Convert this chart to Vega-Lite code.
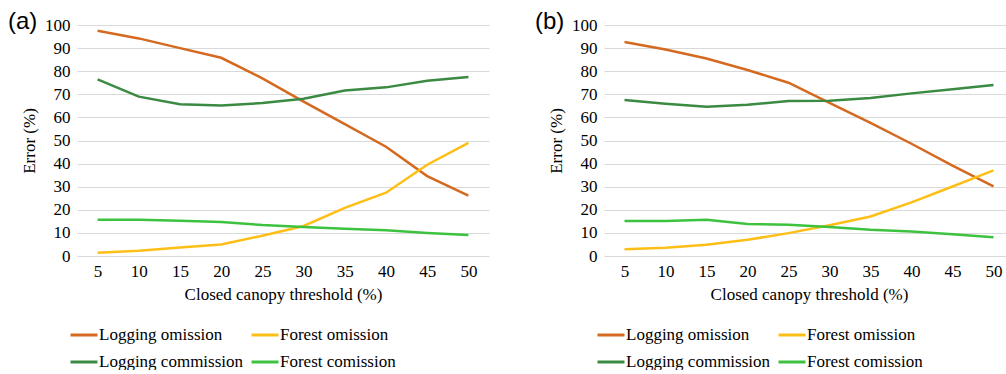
{
  "$schema": "https://vega.github.io/schema/vega-lite/v6.json",
  "background": "white",
  "padding": {"left": 8, "top": 10, "right": 0, "bottom": 0},
  "spacing": 46,
  "datasets": {
    "errors": [
      {"panel": "a", "threshold": 5, "series": "Logging omission", "error": 97.5},
      {"panel": "a", "threshold": 10, "series": "Logging omission", "error": 94.2},
      {"panel": "a", "threshold": 15, "series": "Logging omission", "error": 90.0},
      {"panel": "a", "threshold": 20, "series": "Logging omission", "error": 85.8},
      {"panel": "a", "threshold": 25, "series": "Logging omission", "error": 76.9},
      {"panel": "a", "threshold": 30, "series": "Logging omission", "error": 66.8},
      {"panel": "a", "threshold": 35, "series": "Logging omission", "error": 57.1},
      {"panel": "a", "threshold": 40, "series": "Logging omission", "error": 47.3},
      {"panel": "a", "threshold": 45, "series": "Logging omission", "error": 34.6},
      {"panel": "a", "threshold": 50, "series": "Logging omission", "error": 26.1},
      {"panel": "a", "threshold": 5, "series": "Forest omission", "error": 1.4},
      {"panel": "a", "threshold": 10, "series": "Forest omission", "error": 2.3},
      {"panel": "a", "threshold": 15, "series": "Forest omission", "error": 3.7},
      {"panel": "a", "threshold": 20, "series": "Forest omission", "error": 5.0},
      {"panel": "a", "threshold": 25, "series": "Forest omission", "error": 8.8},
      {"panel": "a", "threshold": 30, "series": "Forest omission", "error": 13.0},
      {"panel": "a", "threshold": 35, "series": "Forest omission", "error": 20.8},
      {"panel": "a", "threshold": 40, "series": "Forest omission", "error": 27.4},
      {"panel": "a", "threshold": 45, "series": "Forest omission", "error": 39.5},
      {"panel": "a", "threshold": 50, "series": "Forest omission", "error": 49.0},
      {"panel": "a", "threshold": 5, "series": "Logging commission", "error": 76.5},
      {"panel": "a", "threshold": 10, "series": "Logging commission", "error": 69.0},
      {"panel": "a", "threshold": 15, "series": "Logging commission", "error": 65.7},
      {"panel": "a", "threshold": 20, "series": "Logging commission", "error": 65.2},
      {"panel": "a", "threshold": 25, "series": "Logging commission", "error": 66.2},
      {"panel": "a", "threshold": 30, "series": "Logging commission", "error": 68.1},
      {"panel": "a", "threshold": 35, "series": "Logging commission", "error": 71.6},
      {"panel": "a", "threshold": 40, "series": "Logging commission", "error": 73.0},
      {"panel": "a", "threshold": 45, "series": "Logging commission", "error": 75.9},
      {"panel": "a", "threshold": 50, "series": "Logging commission", "error": 77.5},
      {"panel": "a", "threshold": 5, "series": "Forest comission", "error": 15.7},
      {"panel": "a", "threshold": 10, "series": "Forest comission", "error": 15.7},
      {"panel": "a", "threshold": 15, "series": "Forest comission", "error": 15.3},
      {"panel": "a", "threshold": 20, "series": "Forest comission", "error": 14.7},
      {"panel": "a", "threshold": 25, "series": "Forest comission", "error": 13.4},
      {"panel": "a", "threshold": 30, "series": "Forest comission", "error": 12.6},
      {"panel": "a", "threshold": 35, "series": "Forest comission", "error": 11.8},
      {"panel": "a", "threshold": 40, "series": "Forest comission", "error": 11.1},
      {"panel": "a", "threshold": 45, "series": "Forest comission", "error": 10.0},
      {"panel": "a", "threshold": 50, "series": "Forest comission", "error": 9.1},
      {"panel": "b", "threshold": 5, "series": "Logging omission", "error": 92.6},
      {"panel": "b", "threshold": 10, "series": "Logging omission", "error": 89.4},
      {"panel": "b", "threshold": 15, "series": "Logging omission", "error": 85.5},
      {"panel": "b", "threshold": 20, "series": "Logging omission", "error": 80.5},
      {"panel": "b", "threshold": 25, "series": "Logging omission", "error": 75.0},
      {"panel": "b", "threshold": 30, "series": "Logging omission", "error": 66.3},
      {"panel": "b", "threshold": 35, "series": "Logging omission", "error": 57.6},
      {"panel": "b", "threshold": 40, "series": "Logging omission", "error": 48.6},
      {"panel": "b", "threshold": 45, "series": "Logging omission", "error": 39.1},
      {"panel": "b", "threshold": 50, "series": "Logging omission", "error": 30.1},
      {"panel": "b", "threshold": 5, "series": "Forest omission", "error": 2.9},
      {"panel": "b", "threshold": 10, "series": "Forest omission", "error": 3.6},
      {"panel": "b", "threshold": 15, "series": "Forest omission", "error": 4.9},
      {"panel": "b", "threshold": 20, "series": "Forest omission", "error": 7.0},
      {"panel": "b", "threshold": 25, "series": "Forest omission", "error": 9.9},
      {"panel": "b", "threshold": 30, "series": "Forest omission", "error": 13.3},
      {"panel": "b", "threshold": 35, "series": "Forest omission", "error": 17.1},
      {"panel": "b", "threshold": 40, "series": "Forest omission", "error": 23.2},
      {"panel": "b", "threshold": 45, "series": "Forest omission", "error": 30.1},
      {"panel": "b", "threshold": 50, "series": "Forest omission", "error": 37.1},
      {"panel": "b", "threshold": 5, "series": "Logging commission", "error": 67.5},
      {"panel": "b", "threshold": 10, "series": "Logging commission", "error": 65.9},
      {"panel": "b", "threshold": 15, "series": "Logging commission", "error": 64.6},
      {"panel": "b", "threshold": 20, "series": "Logging commission", "error": 65.5},
      {"panel": "b", "threshold": 25, "series": "Logging commission", "error": 67.1},
      {"panel": "b", "threshold": 30, "series": "Logging commission", "error": 67.2},
      {"panel": "b", "threshold": 35, "series": "Logging commission", "error": 68.4},
      {"panel": "b", "threshold": 40, "series": "Logging commission", "error": 70.4},
      {"panel": "b", "threshold": 45, "series": "Logging commission", "error": 72.2},
      {"panel": "b", "threshold": 50, "series": "Logging commission", "error": 74.0},
      {"panel": "b", "threshold": 5, "series": "Forest comission", "error": 15.2},
      {"panel": "b", "threshold": 10, "series": "Forest comission", "error": 15.2},
      {"panel": "b", "threshold": 15, "series": "Forest comission", "error": 15.7},
      {"panel": "b", "threshold": 20, "series": "Forest comission", "error": 13.9},
      {"panel": "b", "threshold": 25, "series": "Forest comission", "error": 13.5},
      {"panel": "b", "threshold": 30, "series": "Forest comission", "error": 12.6},
      {"panel": "b", "threshold": 35, "series": "Forest comission", "error": 11.4},
      {"panel": "b", "threshold": 40, "series": "Forest comission", "error": 10.6},
      {"panel": "b", "threshold": 45, "series": "Forest comission", "error": 9.4},
      {"panel": "b", "threshold": 50, "series": "Forest comission", "error": 8.1}
    ]
  },
  "hconcat": [
    {
      "title": {"text": "(a)"},
      "width": 412,
      "height": 231,
      "data": {"name": "errors"},
      "transform": [{"filter": "datum.panel === 'a'"}],
      "mark": {"type": "line", "strokeWidth": 2.5},
      "encoding": {
        "x": {"field": "threshold", "type": "ordinal", "scale": {"type": "point", "padding": 0.5}, "axis": {"title": "Closed canopy threshold (%)"}},
        "y": {"field": "error", "type": "quantitative", "scale": {"domain": [0, 100]}, "axis": {"title": "Error (%)", "values": [0,10,20,30,40,50,60,70,80,90,100]}},
        "color": {"field": "series", "type": "nominal", "sort": ["Logging omission", "Forest omission", "Logging commission", "Forest comission"],
          "scale": {"domain": ["Logging omission", "Forest omission", "Logging commission", "Forest comission"], "range": ["#D4691F", "#FDBE16", "#3B8A41", "#3DC23F"]},
          "legend": {"title": null, "orient": "none", "legendX": -8, "legendY": 295, "columns": 2}}
      }
    },
    {
      "title": {"text": "(b)"},
      "width": 410,
      "height": 231,
      "data": {"name": "errors"},
      "transform": [{"filter": "datum.panel === 'b'"}],
      "mark": {"type": "line", "strokeWidth": 2.5},
      "encoding": {
        "x": {"field": "threshold", "type": "ordinal", "scale": {"type": "point", "padding": 0.5}, "axis": {"title": "Closed canopy threshold (%)"}},
        "y": {"field": "error", "type": "quantitative", "scale": {"domain": [0, 100]}, "axis": {"title": "Error (%)", "values": [0,10,20,30,40,50,60,70,80,90,100]}},
        "color": {"field": "series", "type": "nominal", "sort": ["Logging omission", "Forest omission", "Logging commission", "Forest comission"],
          "scale": {"domain": ["Logging omission", "Forest omission", "Logging commission", "Forest comission"], "range": ["#D4691F", "#FDBE16", "#3B8A41", "#3DC23F"]},
          "legend": {"title": null, "orient": "none", "legendX": -8, "legendY": 295, "columns": 2}}
      }
    }
  ],
  "resolve": {"scale": {"color": "independent"}, "legend": {"color": "independent"}},
  "config": {
    "font": "Liberation Serif, Times New Roman, serif",
    "view": {"stroke": null},
    "title": {"font": "Liberation Sans, Arial, sans-serif", "fontSize": 24, "fontWeight": "normal", "color": "#000", "anchor": "start", "frame": "group", "dx": -69, "dy": 22, "offset": 0, "baseline": "alphabetic"},
    "axis": {"labelFont": "Liberation Serif, Times New Roman, serif", "labelFontSize": 17, "labelColor": "#000", "titleFont": "Liberation Serif, Times New Roman, serif", "titleFontSize": 17, "titleFontWeight": "normal", "titleColor": "#000", "ticks": false, "domain": false, "gridColor": "#D9D9D9", "gridWidth": 1},
    "axisX": {"grid": false, "labelAngle": 0, "labelPadding": 7, "titlePadding": 7},
    "axisY": {"grid": true, "labelPadding": 7, "titlePadding": 6},
    "legend": {"labelFont": "Liberation Serif, Times New Roman, serif", "labelFontSize": 17, "labelColor": "#000", "symbolType": "stroke", "symbolSize": 729, "symbolStrokeWidth": 3, "labelOffset": 0, "columnPadding": 1, "rowPadding": 4, "direction": "horizontal"}
  }
}
